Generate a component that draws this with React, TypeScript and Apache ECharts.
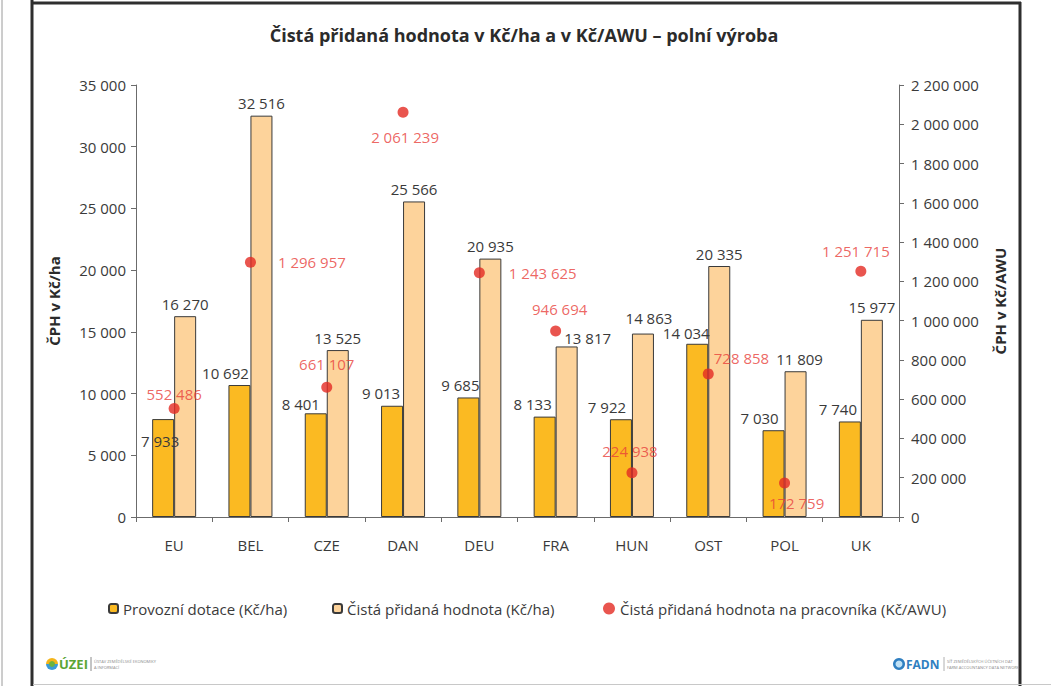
import React, { useEffect, useRef } from "react";
import * as echarts from "echarts";

const categories = ["EU", "BEL", "CZE", "DAN", "DEU", "FRA", "HUN", "OST", "POL", "UK"];
const provozniDotace = [7933, 10692, 8401, 9013, 9685, 8133, 7922, 14034, 7030, 7740];
const cistaPridanaHa = [16270, 32516, 13525, 25566, 20935, 13817, 14863, 20335, 11809, 15977];
const cistaPridanaAwu = [552486, 1296957, 661107, 2061239, 1243625, 946694, 224938, 728858, 172759, 1251715];
const leftTicks = { min: 0, max: 35000, interval: 5000 };
const rightTicks = { min: 0, max: 2200000, interval: 200000 };

const seriesNames = [
  "Provozní dotace (Kč/ha)",
  "Čistá přidaná hodnota (Kč/ha)",
  "Čistá přidaná hodnota na pracovníka (Kč/AWU)",
];

const fmt = (n: number) => String(n).replace(/\B(?=(\d{3})+(?!\d))/g, " ");

const FONT = "'Open Sans', 'Noto Sans', sans-serif";

export default function App() {
  const ref = useRef<HTMLDivElement>(null);
  useEffect(() => {
    if (!ref.current) return;
    const chart = echarts.init(ref.current, undefined, { renderer: "svg" });

    // label placement tweaks (style only)
    const bar1Off: number[][] = [[-3, 34], [-14, 0], [-15, 3], [-11, 0], [-8, 0], [-12, 0], [-14, 0], [-11, 2], [-14, 0], [-12, 0]];
    const bar2Off: number[][] = [[0, 0], [0, 0], [0, 0], [0, 0], [0, 0], [21, 4], [6, -3], [0, 0], [4, 0], [0, 0]];
    const dotPos: any[] = [
      { position: "top", distance: 2, offset: [0, 0] },
      { position: "right", distance: 22, offset: [0, 0] },
      { position: "top", distance: 10, offset: [0, 0] },
      { position: "bottom", distance: 12, offset: [2, 0] },
      { position: "right", distance: 24, offset: [0, 0] },
      { position: "top", distance: 9, offset: [4, 0] },
      { position: "top", distance: 9, offset: [-2, 0] },
      { position: "right", distance: 0, offset: [0, -16] },
      { position: "bottom", distance: 7, offset: [12, 0] },
      { position: "top", distance: 7, offset: [-5, 0] },
    ];

    const labelText = { fontFamily: FONT, fontSize: 15, color: "#3a3a3a" };

    chart.setOption({
      animation: false,
      backgroundColor: "#ffffff",
      textStyle: { fontFamily: FONT },
      title: {
        text: "Čistá přidaná hodnota v Kč/ha a v Kč/AWU – polní výroba",
        left: 519,
        top: 21,
        textAlign: "center",
        textStyle: { fontFamily: FONT, fontSize: 18, fontWeight: "bold", color: "#2b2b2b" },
      },
      grid: { left: 136, right: 152, top: 85, bottom: 169, containLabel: false },
      legend: [0, 1, 2].map((i) => ({
        data: [seriesNames[i]],
        left: [108, 332, 603][i],
        top: 601,
        itemWidth: i === 2 ? 12 : 9,
        itemHeight: i === 2 ? 12 : 9,
        itemGap: 0,
        padding: 0,
        textStyle: { fontFamily: FONT, fontSize: 15, color: "#3a3a3a", padding: [0, 0, 0, 0] },
      })),
      xAxis: {
        type: "category",
        data: categories,
        axisLine: { lineStyle: { color: "#6b6b6b", width: 1 } },
        axisTick: { show: true, length: 5, alignWithLabel: false, lineStyle: { color: "#6b6b6b" } },
        axisLabel: { fontFamily: FONT, fontSize: 15, color: "#3a3a3a", margin: 20 },
        splitLine: { show: false },
      },
      yAxis: [
        {
          type: "value",
          min: leftTicks.min,
          max: leftTicks.max,
          interval: leftTicks.interval,
          name: "ČPH v Kč/ha",
          nameLocation: "middle",
          nameRotate: 90,
          nameGap: 75,
          nameTextStyle: { fontFamily: FONT, fontSize: 15, fontWeight: "bold", color: "#2b2b2b" },
          axisLine: { show: true, lineStyle: { color: "#6b6b6b" } },
          axisTick: { show: true, length: 5, lineStyle: { color: "#6b6b6b" } },
          axisLabel: { fontFamily: FONT, fontSize: 15, color: "#3a3a3a", margin: 10, formatter: (v: number) => fmt(v) },
          splitLine: { show: false },
        },
        {
          type: "value",
          min: rightTicks.min,
          max: rightTicks.max,
          interval: rightTicks.interval,
          position: "right",
          name: "ČPH v Kč/AWU",
          nameLocation: "middle",
          nameRotate: 90,
          nameGap: 93,
          nameTextStyle: { fontFamily: FONT, fontSize: 15, fontWeight: "bold", color: "#2b2b2b" },
          axisLine: { show: true, lineStyle: { color: "#6b6b6b" } },
          axisTick: { show: true, length: 5, lineStyle: { color: "#6b6b6b" } },
          axisLabel: { fontFamily: FONT, fontSize: 15, color: "#3a3a3a", margin: 12, formatter: (v: number) => fmt(v) },
          splitLine: { show: false },
        },
      ],
      series: [
        {
          name: seriesNames[0],
          type: "bar",
          yAxisIndex: 0,
          barWidth: 22,
          barGap: "0%",
          itemStyle: { color: "#FBBA22", borderColor: "#3a3a3a", borderWidth: 1 },
          data: provozniDotace.map((v, i) => ({
            value: v,
            label: { show: true, position: "top", distance: 5, offset: bar1Off[i], formatter: () => fmt(v), ...labelText },
          })),
        },
        {
          name: seriesNames[1],
          type: "bar",
          yAxisIndex: 0,
          barWidth: 22,
          barGap: "0%",
          itemStyle: { color: "#FDD39B", borderColor: "#3a3a3a", borderWidth: 1 },
          data: cistaPridanaHa.map((v, i) => ({
            value: v,
            label: { show: true, position: "top", distance: 5, offset: bar2Off[i], formatter: () => fmt(v), ...labelText },
          })),
        },
        {
          name: seriesNames[2],
          type: "scatter",
          yAxisIndex: 1,
          symbol: "circle",
          symbolSize: 11,
          itemStyle: { color: "#E42A23" },
          z: 5,
          data: cistaPridanaAwu.map((v, i) => ({
            value: v,
            label: {
              show: true,
              ...dotPos[i],
              formatter: () => fmt(v),
              fontFamily: FONT,
              fontSize: 15,
              color: "#E8403A",
            },
          })),
        },
      ],
      graphic: [
        // page frame
        { type: "line", shape: { x1: 2, y1: 0, x2: 2, y2: 686 }, style: { stroke: "#9a9a9a", lineWidth: 1 } },
        { type: "line", shape: { x1: 32, y1: 0, x2: 32, y2: 686 }, style: { stroke: "#2e2e2e", lineWidth: 3 } },
        { type: "line", shape: { x1: 32, y1: 3, x2: 1021, y2: 3 }, style: { stroke: "#2e2e2e", lineWidth: 3 } },
        { type: "line", shape: { x1: 1020, y1: 2, x2: 1020, y2: 686 }, style: { stroke: "#2e2e2e", lineWidth: 3 } },
        { type: "line", shape: { x1: 33, y1: 684.5, x2: 1051, y2: 684.5 }, style: { stroke: "#c8c8c8", lineWidth: 1 } },
        // ÚZEI logo
        { type: "sector", shape: { cx: 52, cy: 664, r0: 0, r: 6, startAngle: Math.PI, endAngle: 2 * Math.PI }, style: { fill: "#F4B41A" } },
        { type: "sector", shape: { cx: 52, cy: 664, r0: 0, r: 6, startAngle: 0, endAngle: Math.PI }, style: { fill: "#3A9AD9" } },
        { type: "circle", shape: { cx: 52, cy: 664, r: 3 }, style: { fill: "#6DB33F" } },
        { type: "text", x: 59, y: 664, style: { text: "ÚZEI", fontFamily: FONT, fontSize: 13, fontWeight: "bold", fill: "#5BA534", verticalAlign: "middle" } },
        { type: "line", shape: { x1: 91, y1: 657, x2: 91, y2: 671 }, style: { stroke: "#8a8a8a", lineWidth: 1 } },
        { type: "text", x: 94, y: 661, style: { text: "ÚSTAV ZEMĚDĚLSKÉ EKONOMIKY", fontFamily: FONT, fontSize: 4, fill: "#8a8a8a", verticalAlign: "middle" } },
        { type: "text", x: 94, y: 667, style: { text: "A INFORMACÍ", fontFamily: FONT, fontSize: 4, fill: "#8a8a8a", verticalAlign: "middle" } },
        // FADN logo
        { type: "circle", shape: { cx: 899, cy: 664, r: 6 }, style: { fill: "#2F7FC1" } },
        { type: "circle", shape: { cx: 899, cy: 664, r: 3.5 }, style: { fill: "#BFE1F6" } },
        { type: "text", x: 906, y: 664, style: { text: "FADN", fontFamily: FONT, fontSize: 12, fontWeight: "bold", fill: "#2F7FC1", verticalAlign: "middle" } },
        { type: "line", shape: { x1: 944, y1: 657, x2: 944, y2: 671 }, style: { stroke: "#b0b0b0", lineWidth: 1 } },
        { type: "text", x: 947, y: 661, style: { text: "SÍŤ ZEMĚDĚLSKÝCH ÚČETNÍCH DAT", fontFamily: FONT, fontSize: 4, fill: "#8a8a8a", verticalAlign: "middle" } },
        { type: "text", x: 947, y: 667, style: { text: "FARM ACCOUNTANCY DATA NETWORK", fontFamily: FONT, fontSize: 4, fill: "#8a8a8a", verticalAlign: "middle" } },
      ],
    });
    return () => chart.dispose();
  }, []);
  return <div ref={ref} style={{ position: "absolute", left: 0, top: 0, width: 1051, height: 686 }} />;
}
